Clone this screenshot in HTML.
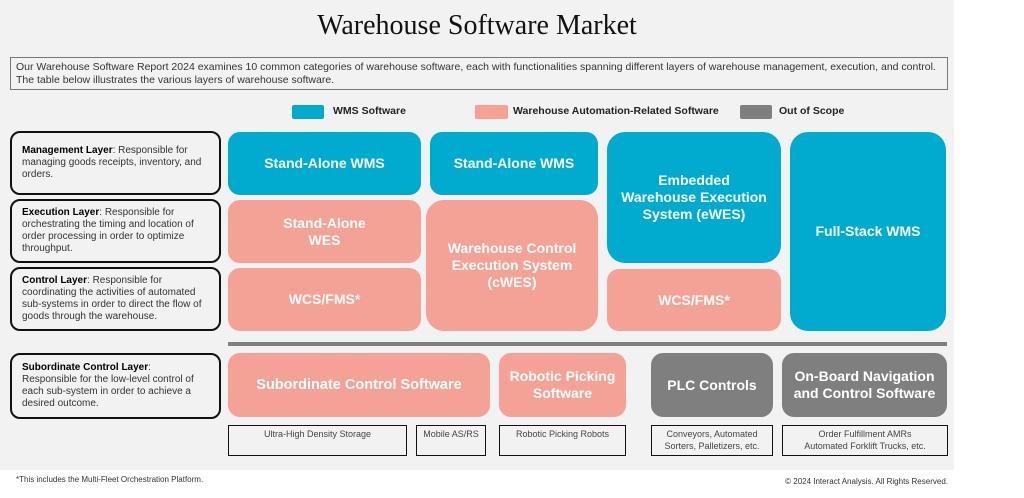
<!DOCTYPE html>
<html><head><meta charset="utf-8"><style>
*{margin:0;padding:0;box-sizing:border-box}
body{width:1024px;height:498px;background:#fff;position:relative;overflow:hidden;font-family:"Liberation Sans",sans-serif}
.bg{position:absolute;left:0;top:0;width:954px;height:470px;background:#f2f2f2}
.a{position:absolute}
.t{position:absolute;display:flex;align-items:center;justify-content:center;text-align:center;color:#fff;font-weight:bold;font-size:14px;line-height:17px;border-radius:12px}
.b{background:#00abcf}.p{background:#f4a196}.g{background:#7f7f7f}
.l{position:absolute;left:10px;width:211px;border:2px solid #111;border-radius:10px;background:#f2f2f2;font-size:10px;line-height:12px;color:#333;padding:6px 10px;display:flex;align-items:center}
.l b{color:#000}
.s{position:absolute;border:1.5px solid #111;font-size:9px;line-height:11.5px;color:#444;text-align:center;padding-top:3px}
.lg{position:absolute;font-size:10.5px;font-weight:bold;color:#222}
</style></head><body>
<div class="bg"></div>
<div class="a" style="left:0;width:954px;top:10px;text-align:center;font-family:'Liberation Serif',serif;font-size:28px;color:#111">Warehouse Software Market</div>
<div class="a" style="left:10px;top:57px;width:938px;height:33px;border:1px solid #777;font-size:10.5px;line-height:12.5px;color:#333;padding:3px 5px">Our Warehouse Software Report 2024 examines 10 common categories of warehouse software, each with functionalities spanning different layers of warehouse management, execution, and control.<br>The table below illustrates the various layers of warehouse software.</div>
<div class="a b" style="left:292px;top:105px;width:32px;height:14px;border-radius:2px"></div><div class="lg" style="left:333px;top:105px">WMS Software</div>
<div class="a p" style="left:475px;top:105px;width:33px;height:14px;border-radius:2px"></div><div class="lg" style="left:513px;top:105px">Warehouse Automation-Related Software</div>
<div class="a g" style="left:740px;top:105px;width:32px;height:14px;border-radius:2px"></div><div class="lg" style="left:779px;top:105px">Out of Scope</div>

<div class="l" style="top:131px;height:64px"><div><b>Management Layer</b>: Responsible for managing goods receipts, inventory, and orders.</div></div>
<div class="l" style="top:199px;height:64px"><div><b>Execution Layer</b>: Responsible for orchestrating the timing and location of order processing in order to optimize throughput.</div></div>
<div class="l" style="top:267px;height:64px"><div><b>Control Layer</b>: Responsible for coordinating the activities of automated sub-systems in order to direct the flow of goods through the warehouse.</div></div>
<div class="l" style="top:353px;height:66px"><div><b>Subordinate Control Layer</b>:<br>Responsible for the low-level control of each sub-system in order to achieve a desired outcome.</div></div>

<div class="t b" style="left:228px;top:132px;width:193px;height:63px">Stand-Alone WMS</div>
<div class="t p" style="left:228px;top:200px;width:193px;height:63px">Stand-Alone<br>WES</div>
<div class="t p" style="left:228px;top:268px;width:193px;height:63px">WCS/FMS*</div>
<div class="t b" style="left:430px;top:132px;width:168px;height:63px">Stand-Alone WMS</div>
<div class="t p" style="left:426px;top:200px;width:172px;height:131px;border-radius:18px">Warehouse Control<br>Execution System<br>(cWES)</div>
<div class="t b" style="left:607px;top:132px;width:174px;height:131px;border-radius:18px">Embedded<br>Warehouse Execution<br>System (eWES)</div>
<div class="t p" style="left:607px;top:269px;width:174px;height:62px">WCS/FMS*</div>
<div class="t b" style="left:790px;top:132px;width:156px;height:199px;border-radius:18px">Full-Stack WMS</div>

<div class="a" style="left:228px;top:342px;width:719px;height:4px;background:#7f7f7f"></div>

<div class="t p" style="left:228px;top:353px;width:262px;height:64px;font-size:14.5px">Subordinate Control Software</div>
<div class="t p" style="left:499px;top:353px;width:127px;height:64px">Robotic Picking<br>Software</div>
<div class="t g" style="left:651px;top:353px;width:122px;height:64px">PLC Controls</div>
<div class="t g" style="left:782px;top:353px;width:165px;height:64px">On-Board Navigation<br>and Control Software</div>

<div class="s" style="left:228px;top:425px;width:179px;height:31px">Ultra-High Density Storage</div>
<div class="s" style="left:416px;top:425px;width:70px;height:31px">Mobile AS/RS</div>
<div class="s" style="left:499px;top:425px;width:127px;height:31px">Robotic Picking Robots</div>
<div class="s" style="left:651px;top:425px;width:122px;height:31px">Conveyors, Automated<br>Sorters, Palletizers, etc.</div>
<div class="s" style="left:782px;top:425px;width:166px;height:31px">Order Fulfillment AMRs<br>Automated Forklift Trucks, etc.</div>

<div class="a" style="left:16px;top:475px;font-size:8px;color:#333">*This includes the Multi-Fleet Orchestration Platform.</div>
<div class="a" style="left:700px;top:477px;width:248px;text-align:right;font-size:8px;color:#333;white-space:nowrap">© 2024 Interact Analysis. All Rights Reserved.</div>
</body></html>
